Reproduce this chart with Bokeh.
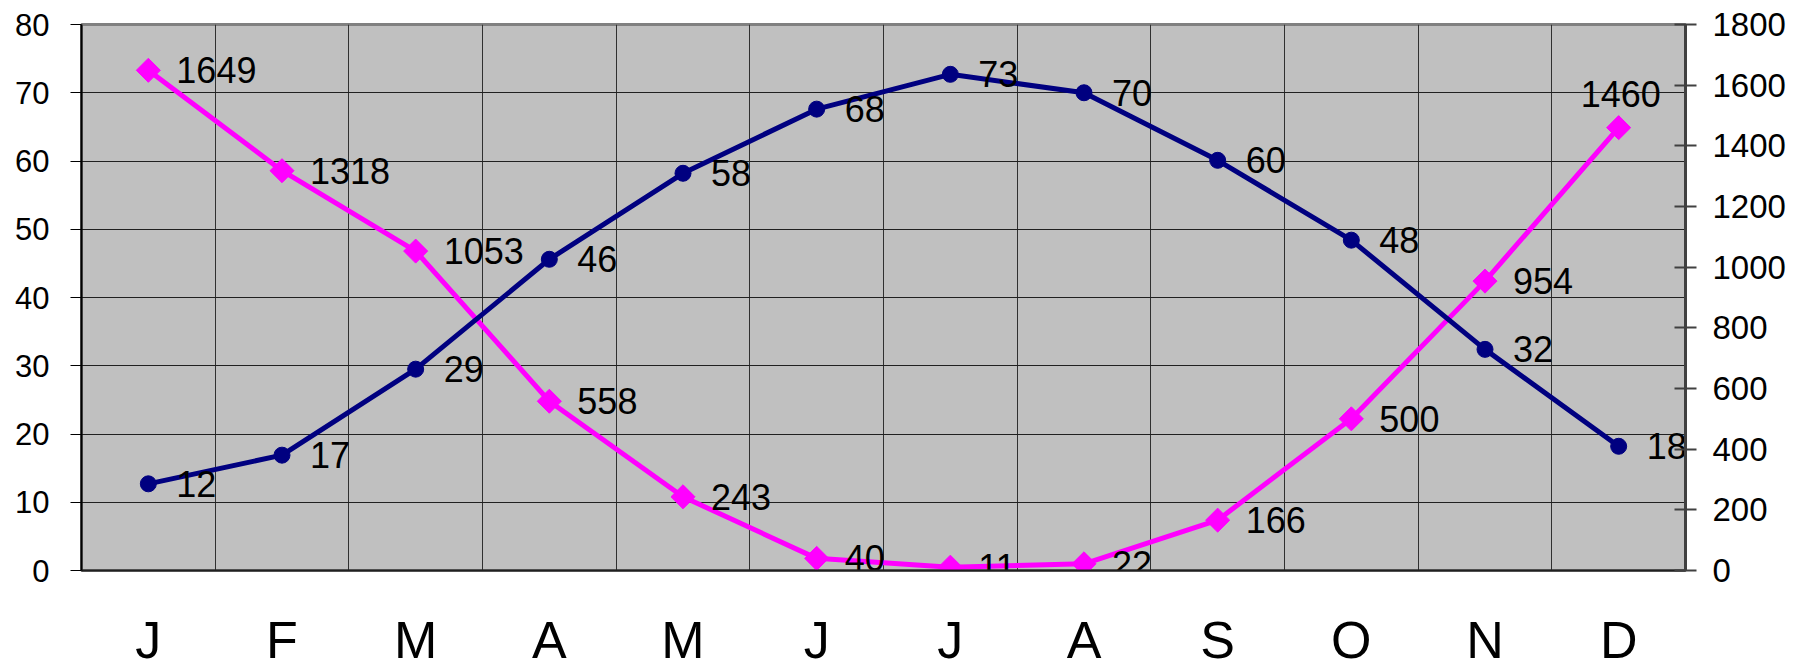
from bokeh.plotting import figure
from bokeh.models import Range1d, LinearAxis, FixedTicker, ColumnDataSource
from bokeh.core.properties import value
from bokeh.embed import file_html
from bokeh.resources import INLINE
import math

months = ["J", "F", "M", "A", "M", "J", "J", "A", "S", "O", "N", "D"]
temp_values = [12.7, 16.9, 29.5, 45.6, 58.2, 67.6, 72.7, 70.0, 60.1, 48.4, 32.4, 18.2]
temp_labels = ["12", "17", "29", "46", "58", "68", "73", "70", "60", "48", "32", "18"]
deg_values = [1649, 1318, 1053, 558, 243, 40, 11, 22, 166, 500, 954, 1460]
deg_labels = [str(v) for v in deg_values]
left_ticks = [0, 10, 20, 30, 40, 50, 60, 70, 80]
right_ticks = [0, 200, 400, 600, 800, 1000, 1200, 1400, 1600, 1800]

FONT = "Liberation Sans"
xs = list(range(len(months)))
n = len(xs)

p = figure(width=1798, height=671, output_backend="svg", toolbar_location=None,
           x_range=Range1d(-0.5, 11.5), y_range=Range1d(0, 80),
           min_border_left=81, min_border_right=113, min_border_top=24, min_border_bottom=100)
p.extra_y_ranges = {"right": Range1d(0, 1800)}
p.background_fill_color = "#C0C0C0"
p.border_fill_color = "white"
p.outline_line_color = "#808080"
p.outline_line_width = 3

# x axis
p.xaxis.ticker = FixedTicker(ticks=xs)
p.xaxis.major_label_overrides = {i: m for i, m in enumerate(months)}
p.xaxis.major_tick_line_color = None
p.xaxis.major_tick_out = 0
p.xaxis.major_tick_in = 0
p.xaxis.minor_tick_line_color = None
p.xaxis.axis_line_color = "#202020"
p.xaxis.axis_line_width = 2
p.xaxis.major_label_text_font = FONT
p.xaxis.major_label_text_font_size = "52px"
p.xaxis.major_label_text_color = "black"
p.xaxis.major_label_standoff = 40

# left axis
p.yaxis.ticker = FixedTicker(ticks=left_ticks)
p.yaxis.minor_tick_line_color = None
p.yaxis.major_tick_in = 0
p.yaxis.major_tick_out = 11
p.yaxis.major_tick_line_color = "black"
p.yaxis.axis_line_color = "black"
p.yaxis.axis_line_width = 2
p.yaxis.major_label_text_font = FONT
p.yaxis.major_label_text_font_size = "31px"
p.yaxis.major_label_text_color = "black"
p.yaxis.major_label_standoff = 21

# right axis
ra = LinearAxis(y_range_name="right", ticker=FixedTicker(ticks=right_ticks))
ra.minor_tick_line_color = None
ra.major_tick_in = 11
ra.major_tick_out = 11
ra.major_tick_line_color = "#404040"
ra.major_tick_line_width = 2
ra.axis_line_color = "#404040"
ra.axis_line_width = 3
ra.major_label_text_font = FONT
ra.major_label_text_font_size = "33px"
ra.major_label_text_color = "black"
ra.major_label_standoff = 16
p.add_layout(ra, "right")

# grids
p.xgrid.ticker = FixedTicker(ticks=[i + 0.5 for i in range(n - 1)])
p.xgrid.grid_line_color = "#303030"
p.xgrid.grid_line_width = 1
p.ygrid.ticker = FixedTicker(ticks=left_ticks)
p.ygrid.grid_line_color = "#202020"
p.ygrid.grid_line_width = 1

# label offsets: the last label would run past the frame edge, so lift it above its marker
d_dx = [28] * (n - 1) + [-38]
d_dy = [0] * (n - 1) + [-34]

src_t = ColumnDataSource(dict(x=xs, y=temp_values, lab=temp_labels))
src_d = ColumnDataSource(dict(x=xs, y=deg_values, lab=deg_labels, dx=d_dx, dy=d_dy))

p.line("x", "y", source=src_d, y_range_name="right", line_color="#FF00FF", line_width=5)
p.scatter("x", "y", source=src_d, y_range_name="right", marker="square", size=17,
          angle=math.pi / 4, fill_color="#FF00FF", line_color="#FF00FF")
p.line("x", "y", source=src_t, line_color="#000080", line_width=5)
p.scatter("x", "y", source=src_t, marker="circle", size=16,
          fill_color="#000080", line_color="#000080")

p.text("x", "y", text="lab", source=src_d, y_range_name="right", x_offset="dx", y_offset="dy",
       text_align="left", text_baseline="middle", text_font=value(FONT),
       text_font_size="36px", text_color="black")
p.text("x", "y", text="lab", source=src_t, x_offset=28,
       text_align="left", text_baseline="middle", text_font=value(FONT),
       text_font_size="36px", text_color="black")

open("out.html", "w").write(file_html(p, INLINE))
